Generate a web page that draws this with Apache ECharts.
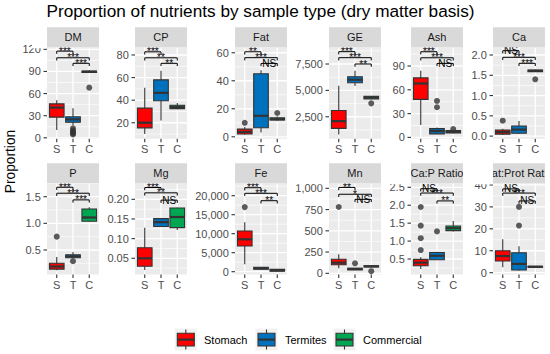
<!DOCTYPE html>
<html><head><meta charset="utf-8">
<script src="https://cdn.jsdelivr.net/npm/echarts@6/dist/echarts.min.js"></script>
<style>html,body{margin:0;padding:0;background:#fff}#c{width:550px;height:354px}</style>
</head><body><div id="c"></div>
<script>
const FONT = '"Liberation Sans", Arial, Helvetica, sans-serif';
const groups = ['S', 'T', 'C'];
const groupNames = ['Stomach', 'Termites', 'Commercial'];
const groupColors = ['#FF0000', '#0072BD', '#00A651'];

// ---- box stats per group: [min, q1, median, q3, max]
const dmBoxes = [[10.5, 28, 41, 46, 51], [17, 21, 25, 28.5, 40], [88, 88.5, 89.5, 90.5, 91.5]];
const dmOutliers = [[], [13, 10, 8, 6, 4.5], [68]];
const dmSig = [[1, 2, 117.5, '***'], [1, 3, 108.5, '***'], [2, 3, 101, '***']];
const dmTicks = [0, 30, 60, 90, 120];
const dmTickLabels = ['0', '30', '60', '90', '120'];
const dmRange = [-1.2, 122.7];

const cpBoxes = [[10, 15.5, 20, 33, 51], [22, 39.5, 46.5, 58, 66], [32, 32.5, 34, 35.5, 37.5]];
const cpOutliers = [[], [], []];
const cpSig = [[1, 2, 82.8, '***'], [1, 3, 77.5, '**'], [2, 3, 72.6, '**']];
const cpTicks = [20, 40, 60, 80];
const cpTickLabels = ['20', '40', '60', '80'];
const cpRange = [5.9, 86.8];

const fatBoxes = [[1.5, 2, 3.5, 5.5, 7], [3, 6.5, 15, 45, 47.5], [11.5, 12, 12.5, 13.5, 14.5]];
const fatOutliers = [[10], [], [17]];
const fatSig = [[1, 2, 60.7, '**'], [1, 3, 56.5, '***'], [2, 3, 52.4, 'NS']];
const fatTicks = [0, 20, 40, 60];
const fatTickLabels = ['0', '20', '40', '60'];
const fatRange = [-1.36, 63.9];

const geBoxes = [[830, 1400, 2090, 3100, 5440], [5410, 5730, 6010, 6300, 6870], [4170, 4200, 4340, 4440, 4480]];
const geOutliers = [[], [], [3770]];
const geSig = [[1, 2, 8670, '***'], [1, 3, 8100, '***'], [2, 3, 7500, '**']];
const geTicks = [2500, 5000, 7500];
const geTickLabels = ['2,500', '5,000', '7,500'];
const geRange = [422, 9084];

const ashBoxes = [[15.5, 48, 68, 75, 84], [4, 4.5, 8, 11, 12.5], [5, 5.5, 7, 8.5, 9]];
const ashOutliers = [[], [46, 38], [10.5]];
const ashSig = [[1, 2, 108, '***'], [1, 3, 100.4, '***'], [2, 3, 93.3, 'NS']];
const ashTicks = [0, 30, 60, 90];
const ashTickLabels = ['0', '30', '60', '90'];
const ashRange = [-1.64, 113.6];

const caBoxes = [[0.03, 0.05, 0.1, 0.15, 0.18], [0.05, 0.07, 0.16, 0.25, 0.37], [1.58, 1.59, 1.61, 1.63, 1.64]];
const caOutliers = [[0.38], [], [1.40]];
const caSig = [[1, 2, 2.106, 'NS'], [1, 3, 1.943, '***'], [2, 3, 1.795, '***']];
const caTicks = [0, 0.5, 1, 1.5, 2];
const caTickLabels = ['0.0', '0.5', '1.0', '1.5', '2.0'];
const caRange = [-0.064, 2.19];

const pBoxes = [[0.12, 0.14, 0.19, 0.25, 0.37], [0.34, 0.355, 0.38, 0.41, 0.46], [1.03, 1.04, 1.11, 1.27, 1.30]];
const pOutliers = [[0.75], [0.29], []];
const pSig = [[1, 2, 1.677, '***'], [1, 3, 1.565, '***'], [2, 3, 1.44, '***']];
const pTicks = [0.5, 1, 1.5];
const pTickLabels = ['0.5', '1.0', '1.5'];
const pRange = [0.038, 1.753];

const mgBoxes = [[0.02, 0.03, 0.05, 0.077, 0.128], [0.13, 0.131, 0.142, 0.151, 0.152], [0.122, 0.128, 0.155, 0.178, 0.179]];
const mgOutliers = [[], [], []];
const mgSig = [[1, 2, 0.230, '***'], [1, 3, 0.2165, '**'], [2, 3, 0.198, 'NS']];
const mgTicks = [0.05, 0.10, 0.15, 0.20];
const mgTickLabels = ['0.05', '0.10', '0.15', '0.20'];
const mgRange = [0.0086, 0.241];

const feBoxes = [[1950, 6760, 8520, 10710, 13000], [600, 630, 900, 1160, 1200], [100, 120, 370, 620, 650]];
const feOutliers = [[17000], [], []];
const feSig = [[1, 2, 22100, '***'], [1, 3, 20630, '***'], [2, 3, 18680, '**']];
const feTicks = [0, 5000, 10000, 15000, 20000];
const feTickLabels = ['0', '5,000', '10,000', '15,000', '20,000'];
const feRange = [-763, 23290];

const mnBoxes = [[60, 100, 125, 165, 225], [35, 40, 52, 58, 62], [70, 75, 82, 88, 92]];
const mnOutliers = [[780], [118], [25]];
const mnSig = [[1, 2, 1010, '**'], [1, 3, 930, '*'], [2, 3, 870, 'NS']];
const mnTicks = [0, 250, 500, 750, 1000];
const mnTickLabels = ['0', '250', '500', '750', '1,000'];
const mnRange = [-15, 1060];

const capBoxes = [[0.22, 0.31, 0.40, 0.49, 0.55], [0.47, 0.48, 0.59, 0.68, 0.70], [1.27, 1.29, 1.36, 1.42, 1.56]];
const capOutliers = [[0.75, 1.08, 1.43, 1.95], [1.27], []];
const capSig = [[1, 2, 2.46, 'NS'], [1, 3, 2.34, '***'], [2, 3, 2.12, '**']];
const capTicks = [0.5, 1, 1.5, 2, 2.5];
const capTickLabels = ['0.5', '1.0', '1.5', '2.0', '2.5'];
const capRange = [0.065, 2.614];

const fpBoxes = [[2.5, 5.3, 7.6, 10, 15.2], [0.9, 1.2, 4, 9.1, 12], [2.4, 2.5, 2.7, 2.9, 3.0]];
const fpOutliers = [[], [21.5, 30], []];
const fpSig = [[1, 2, 38.2, 'NS'], [1, 3, 36.3, '***'], [2, 3, 32.7, 'NS']];
const fpTicks = [0, 10, 20, 30, 40];
const fpTickLabels = ['0', '10', '20', '30', '40'];
const fpRange = [-0.87, 40.8];

const panelNames = ['DM', 'CP', 'Fat', 'GE', 'Ash', 'Ca', 'P', 'Mg', 'Fe', 'Mn', 'Ca:P Ratio', 'Fat:Prot Ratio'];

const panels = [
  [dmBoxes, dmOutliers, dmSig, dmTicks, dmTickLabels, dmRange],
  [cpBoxes, cpOutliers, cpSig, cpTicks, cpTickLabels, cpRange],
  [fatBoxes, fatOutliers, fatSig, fatTicks, fatTickLabels, fatRange],
  [geBoxes, geOutliers, geSig, geTicks, geTickLabels, geRange],
  [ashBoxes, ashOutliers, ashSig, ashTicks, ashTickLabels, ashRange],
  [caBoxes, caOutliers, caSig, caTicks, caTickLabels, caRange],
  [pBoxes, pOutliers, pSig, pTicks, pTickLabels, pRange],
  [mgBoxes, mgOutliers, mgSig, mgTicks, mgTickLabels, mgRange],
  [feBoxes, feOutliers, feSig, feTicks, feTickLabels, feRange],
  [mnBoxes, mnOutliers, mnSig, mnTicks, mnTickLabels, mnRange],
  [capBoxes, capOutliers, capSig, capTicks, capTickLabels, capRange],
  [fpBoxes, fpOutliers, fpSig, fpTicks, fpTickLabels, fpRange]
].map((a, i) => ({ name: panelNames[i], boxes: a[0], outliers: a[1], sig: a[2], ticks: a[3], labels: a[4], range: a[5] }));

// ---- layout (pixels)
const colX = [47, 135, 235, 329, 411, 493];
const PW = 52;
const stripTop = [27.3, 163.3];
const plotTop = [47.3, 183.2];
const STRIP_H = 20;
const PH = 91.4;

const grids = [], xAxes = [], yAxes = [], series = [], graphics = [];

panels.forEach((p, i) => {
  const r = Math.floor(i / 6), c = i % 6;
  const left = colX[c];
  grids.push({ left: left, top: plotTop[r], width: PW, height: PH, show: true, backgroundColor: '#EBEBEB', borderWidth: 0, borderColor: 'transparent' });
  xAxes.push({ type: 'value', gridIndex: i, min: 0.4, max: 3.6, show: false });
  yAxes.push({ type: 'value', gridIndex: i, min: p.range[0], max: p.range[1], show: false });

  // horizontal grid lines, y ticks and labels
  const step = p.ticks[1] - p.ticks[0];
  const minor = [p.ticks[0] - step / 2].concat(p.ticks.map(t => t + step / 2)).filter(v => v > p.range[0] && v < p.range[1]);
  const yData = minor.map(v => [2, v, 0, -1]).concat(p.ticks.map((v, k) => [2, v, 1, k]));
  series.push({
    type: 'custom', xAxisIndex: i, yAxisIndex: i, silent: true, z: 1, clip: false,
    encode: { x: 0, y: 1 }, data: yData,
    renderItem: function (params, api) {
      const cs = params.coordSys;
      const y = api.coord([2, api.value(1)])[1];
      const major = api.value(2) === 1;
      const ch = [{ type: 'line', shape: { x1: cs.x, y1: y, x2: cs.x + cs.width, y2: y }, style: { stroke: '#FFFFFF', lineWidth: major ? 1.3 : 0.65 } }];
      if (major) {
        ch.push({ type: 'line', shape: { x1: cs.x - 3.5, y1: y, x2: cs.x, y2: y }, style: { stroke: '#333333', lineWidth: 1.1 } });
        ch.push({ type: 'text', x: cs.x - 6.2, y: y, style: { text: p.labels[api.value(3)], fill: '#4D4D4D', font: '11px ' + FONT, align: 'right', verticalAlign: 'middle', textAlign: 'right', textVerticalAlign: 'middle' } });
      }
      return { type: 'group', children: ch };
    }
  });

  // vertical grid lines, x ticks and labels
  series.push({
    type: 'custom', xAxisIndex: i, yAxisIndex: i, silent: true, z: 1, clip: false,
    encode: { x: 0, y: 1 }, data: groups.map((g, k) => [k + 1, p.range[0]]),
    renderItem: function (params, api) {
      const cs = params.coordSys;
      const x = api.coord([api.value(0), api.value(1)])[0];
      const b = cs.y + cs.height;
      return {
        type: 'group', children: [
          { type: 'line', shape: { x1: x, y1: cs.y, x2: x, y2: b }, style: { stroke: '#FFFFFF', lineWidth: 1.3 } },
          { type: 'line', shape: { x1: x, y1: b, x2: x, y2: b + 3.5 }, style: { stroke: '#333333', lineWidth: 1.1 } },
          { type: 'text', x: x, y: b + 10.4, style: { text: groups[params.dataIndex], fill: '#4D4D4D', font: '11px ' + FONT, align: 'center', verticalAlign: 'middle', textAlign: 'center', textVerticalAlign: 'middle' } }
        ]
      };
    }
  });

  // boxes
  series.push({
    type: 'custom', xAxisIndex: i, yAxisIndex: i, silent: true, z: 3, clip: false,
    encode: { x: 0, y: [1, 2, 3, 4, 5] },
    data: p.boxes.map((b, g) => [g + 1].concat(b)),
    renderItem: function (params, api) {
      const xv = api.value(0);
      const g = params.dataIndex;
      const pt = k => api.coord([xv, api.value(k)]);
      const pMin = pt(1), pQ1 = pt(2), pMed = pt(3), pQ3 = pt(4), pMax = pt(5);
      const half = api.size([0.9, 0])[0] / 2;
      const cx = pMed[0];
      return {
        type: 'group', children: [
          { type: 'line', shape: { x1: cx, y1: pMax[1], x2: cx, y2: pMin[1] }, style: { stroke: '#333333', lineWidth: 1.1 } },
          { type: 'rect', shape: { x: cx - half, y: pQ3[1], width: 2 * half, height: Math.max(pQ1[1] - pQ3[1], 0.5) }, style: { fill: groupColors[g], stroke: '#333333', lineWidth: 1.1 } },
          { type: 'line', shape: { x1: cx - half, y1: pMed[1], x2: cx + half, y2: pMed[1] }, style: { stroke: '#333333', lineWidth: 2.2 } }
        ]
      };
    }
  });

  // outliers
  const outData = [];
  p.outliers.forEach((arr, g) => arr.forEach(v => outData.push([g + 1, v])));
  series.push({
    type: 'scatter', xAxisIndex: i, yAxisIndex: i, silent: true, z: 4,
    symbol: 'circle', symbolSize: 6, data: outData,
    itemStyle: { color: '#333333', borderWidth: 0 }
  });

  // significance brackets
  const tip = 0.03 * (p.range[1] - p.range[0]);
  series.push({
    type: 'custom', xAxisIndex: i, yAxisIndex: i, silent: true, z: 5, clip: false,
    encode: { x: [0, 1], y: 2 },
    data: p.sig.map(s => [s[0], s[1], s[2]]),
    renderItem: function (params, api) {
      const a = api.coord([api.value(0), api.value(2)]);
      const b = api.coord([api.value(1), api.value(2)]);
      const t = api.size([0, tip])[1];
      const y = a[1];
      return {
        type: 'group', children: [
          { type: 'polyline', shape: { points: [[a[0], y + t], [a[0], y], [b[0], y], [b[0], y + t]] }, style: { stroke: '#000000', lineWidth: 1, fill: null } },
          { type: 'text', x: (a[0] + b[0]) / 2, y: y, style: { text: p.sig[params.dataIndex][3], fill: '#000000', font: '10px ' + FONT, align: 'center', verticalAlign: 'middle', textAlign: 'center', textVerticalAlign: 'middle' } }
        ]
      };
    }
  });

  // strip
  graphics.push({ type: 'rect', z: 10, silent: true, shape: { x: left, y: stripTop[r], width: PW, height: STRIP_H }, style: { fill: '#D9D9D9' } });
  graphics.push({ type: 'text', z: 11, silent: true, x: left + PW / 2, y: stripTop[r] + STRIP_H / 2, style: { text: p.name, fill: '#1A1A1A', font: '11px ' + FONT, align: 'center', verticalAlign: 'middle', textAlign: 'center', textVerticalAlign: 'middle' } });
  graphics.push({ type: 'rect', z: 12, silent: true, shape: { x: left - 15, y: stripTop[r] - 1, width: 15, height: STRIP_H + 2 }, style: { fill: '#FFFFFF' } });
  graphics.push({ type: 'rect', z: 12, silent: true, shape: { x: left + PW, y: stripTop[r] - 1, width: 15, height: STRIP_H + 2 }, style: { fill: '#FFFFFF' } });
});

// y axis title
graphics.push({ type: 'text', z: 20, silent: true, x: 10.5, y: 161.5, rotation: Math.PI / 2, style: { text: 'Proportion', fill: '#000000', font: '13.75px ' + FONT, align: 'center', verticalAlign: 'middle', textAlign: 'center', textVerticalAlign: 'middle' } });

// legend
const keyCx = [185.8, 266.5, 344.5];
const keyTextX = [204, 285, 363];
groupNames.forEach((name, g) => {
  const cx = keyCx[g];
  graphics.push({ type: 'rect', z: 20, silent: true, shape: { x: cx - 11, y: 328.5, width: 22, height: 22 }, style: { fill: '#F2F2F2' } });
  graphics.push({ type: 'line', z: 21, silent: true, shape: { x1: cx, y1: 329.5, x2: cx, y2: 349.5 }, style: { stroke: '#333333', lineWidth: 1.1 } });
  graphics.push({ type: 'rect', z: 22, silent: true, shape: { x: cx - 8.5, y: 333.3, width: 17, height: 12.7 }, style: { fill: groupColors[g], stroke: '#333333', lineWidth: 1.1 } });
  graphics.push({ type: 'line', z: 23, silent: true, shape: { x1: cx - 8.5, y1: 339.6, x2: cx + 8.5, y2: 339.6 }, style: { stroke: '#333333', lineWidth: 2.2 } });
  graphics.push({ type: 'text', z: 23, silent: true, x: keyTextX[g], y: 339.6, style: { text: name, fill: '#000000', font: '11px ' + FONT, align: 'left', verticalAlign: 'middle', textAlign: 'left', textVerticalAlign: 'middle' } });
});

const chart = echarts.init(document.getElementById('c'), null, { renderer: 'svg' });
chart.setOption({
  animation: false,
  backgroundColor: '#FFFFFF',
  title: { text: 'Proportion of nutrients by sample type (dry matter basis)', left: 46.5, top: 0.5, padding: 0, textStyle: { fontFamily: FONT, fontSize: 17.2, fontWeight: 'normal', color: '#000000', lineHeight: 20 } },
  grid: grids, xAxis: xAxes, yAxis: yAxes, series: series,
  graphic: { elements: graphics }
});
</script></body></html>
